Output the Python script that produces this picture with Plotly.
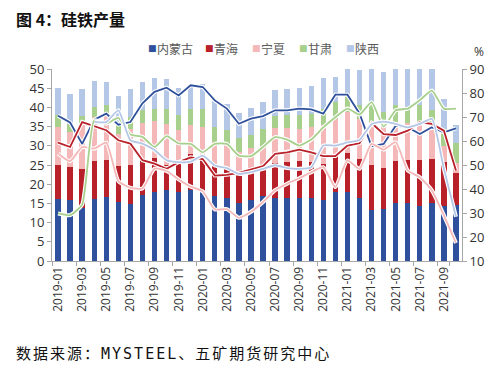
import plotly.graph_objects as go

months = ["2019-01","2019-02","2019-03","2019-04","2019-05","2019-06","2019-07","2019-08","2019-09","2019-10","2019-11","2019-12",
          "2020-01","2020-02","2020-03","2020-04","2020-05","2020-06","2020-07","2020-08","2020-09","2020-10","2020-11","2020-12",
          "2021-01","2021-02","2021-03","2021-04","2021-05","2021-06","2021-07","2021-08","2021-09","2021-10"]

# production (left axis)
neimenggu = [16.2,15.8,13.9,16.1,16.7,15.4,14.9,17.1,18.0,18.4,17.9,18.6,18.2,17.0,16.4,15.2,15.8,17.0,16.3,16.3,16.3,16.3,15.9,18.1,18.1,16.3,13.3,13.5,15.0,15.0,14.3,15.0,14.3,14.6]
qinghai   = [8.9,8.7,10.0,9.9,9.7,9.3,10.0,9.5,8.7,6.5,7.9,9.2,9.1,7.8,7.6,7.3,7.4,7.1,9.3,9.6,9.7,9.6,9.3,9.6,10.1,10.2,11.6,10.7,11.0,11.2,11.9,11.6,11.6,8.4]
ningxia   = [9.8,9.2,11.5,11.5,11.5,8.4,9.6,9.4,9.8,10.9,8.2,7.7,7.6,6.2,6.6,5.9,6.2,5.6,9.0,8.7,8.5,9.0,10.1,9.4,10.6,10.6,11.3,11.6,10.2,9.8,9.8,9.6,4.1,2.4]
gansu     = [3.0,2.1,2.3,2.6,2.6,2.7,3.1,3.2,3.2,3.9,3.9,4.2,4.6,3.9,3.4,3.6,3.5,4.8,3.2,3.3,3.4,3.5,4.4,4.3,4.3,3.6,4.8,3.0,4.5,3.7,4.5,3.0,4.5,5.4]
shaanxi   = [7.2,7.6,7.2,6.8,6.1,7.1,7.3,7.4,8.0,7.8,7.2,6.1,6.7,6.7,6.8,6.5,6.9,6.9,6.7,6.9,7.2,7.3,8.0,6.6,6.8,9.1,8.9,10.5,9.2,10.2,9.4,10.7,7.7,4.5]

# operating rate (right axis, %)
neimenggu_rate = [70.5,67.7,58.8,68.9,71.4,66.8,67.9,75.7,80.5,82.2,79.0,83.2,82.5,76.9,73.5,67.2,69.3,70.4,72.8,72.8,73.5,73.2,71.4,79.3,79.3,71.5,57.8,58.8,66.4,65.7,62.9,65.7,63.6,65.3]
qinghai_rate   = [59.3,57.5,67.9,66.3,64.5,60.3,58.9,52.0,50.6,48.4,51.2,53.2,52.5,45.6,45.9,46.7,48.1,49.5,54.6,55.3,56.4,55.3,53.7,53.7,58.1,59.1,67.5,62.9,62.5,64.3,67.8,67.1,64.3,47.7]
ningxia_rate   = [54.8,51.6,57.5,56.8,59.3,43.3,40.5,40.2,48.5,47.5,44.0,41.0,39.0,31.5,31.6,28.0,30.5,34.6,39.5,42.2,44.5,47.0,49.1,40.8,51.9,48.4,58.8,56.4,59.5,47.7,44.9,39.4,29.0,17.5]
gansu_rate     = [29.8,29.1,33.5,68.6,67.2,69.6,62.7,61.7,57.5,62.0,59.0,58.8,55.3,58.8,58.8,53.9,53.7,57.5,61.6,60.6,58.1,60.6,65.7,69.9,73.5,71.0,76.2,66.0,72.8,73.5,77.0,81.0,73.5,73.5]
shaanxi_rate   = [None,None,None,68.0,67.9,72.8,60.3,58.9,56.2,52.0,51.2,51.4,53.9,49.8,48.7,46.3,47.0,48.4,49.9,48.7,48.4,49.1,58.1,58.1,59.4,60.4,67.0,68.1,67.1,65.7,67.1,69.2,48.4,28.4]

names = ["内蒙古", "青海", "宁夏", "甘肃", "陕西"]
colors = ["#2F519D", "#B8202A", "#F4B8B8", "#A8D08D", "#B4C7E7"]
bars = [neimenggu, qinghai, ningxia, gansu, shaanxi]
rates = [neimenggu_rate, qinghai_rate, ningxia_rate, gansu_rate, shaanxi_rate]
shapes_ = ["linear", "linear", "spline", "spline", "spline"]

fig = go.Figure()
for n, c, v in zip(names, colors, bars):
    fig.add_trace(go.Bar(x=months, y=v, name=n, marker=dict(color=c, line=dict(width=0)), yaxis="y"))

for n, c, v, s in zip(names, colors, rates, shapes_):
    fig.add_trace(go.Scatter(x=months, y=v, mode="lines", yaxis="y2", showlegend=False,
                             line=dict(color="white", width=4, shape=s, smoothing=0.5), hoverinfo="skip"))
    fig.add_trace(go.Scatter(x=months, y=v, mode="lines", yaxis="y2", showlegend=False, name=n,
                             line=dict(color=c, width=1.8, shape=s, smoothing=0.5)))

font_cjk = "Noto Sans CJK SC, Open Sans, sans-serif"
OFF = 8  # page body margin offset
# plot area in screen pixels
SX0, SX1, SY0, SY1 = 52, 462, 69, 261
L, W, T, H = SX0 - OFF, SX1 - SX0, SY0 - OFF, SY1 - SY0
FW, FH = 500, 372

def px_x(x):
    return (x - SX0) / W

def px_y(y):
    return 1 - (y - SY0) / H

annotations = [
    dict(text="<b>图 4：硅铁产量</b>", xref="paper", yref="paper", x=px_x(14), y=px_y(19),
         xanchor="left", yanchor="middle", showarrow=False,
         font=dict(size=16, color="#111111", family=font_cjk)),
    dict(text="%", xref="paper", yref="paper", x=px_x(479), y=px_y(52), xanchor="center", yanchor="middle",
         showarrow=False, font=dict(size=12, color="#333333", family="Open Sans, sans-serif")),
    dict(text="<span style='letter-spacing:2px'>数据来源：<span style='font-family:DejaVu Sans Mono'>MYSTEEL</span>、五矿期货研究中心</span>",
         xref="paper", yref="paper", x=px_x(14), y=px_y(352), xanchor="left", yanchor="middle",
         showarrow=False, font=dict(size=15, color="#111111", family=font_cjk)),
]

# legend drawn as text items
legend_x = [146, 203, 250, 297, 344]
for n, c, lx in zip(names, colors, legend_x):
    annotations.append(dict(text="■", xref="paper", yref="paper", x=px_x(lx), y=px_y(48),
                            xanchor="left", yanchor="middle", showarrow=False,
                            font=dict(size=9, color=c, family="DejaVu Sans")))
    annotations.append(dict(text=n, xref="paper", yref="paper", x=px_x(lx + 9), y=px_y(48),
                            xanchor="left", yanchor="middle", showarrow=False,
                            font=dict(size=12, color="#595959", family=font_cjk)))

fig.update_layout(
    width=FW, height=FH,
    margin=dict(l=L, r=FW - L - W, t=T, b=FH - T - H),
    paper_bgcolor="white", plot_bgcolor="white",
    barmode="stack", bargap=0.56,
    font=dict(family=font_cjk, size=12, color="#333333"),
    showlegend=False,
    xaxis=dict(type="category", tickmode="array", tickvals=months[::2], ticktext=months[::2],
               tickangle=-90, tickfont=dict(size=12, color="#333333", family="Open Sans, sans-serif"),
               showline=True, linecolor="#A6A6A6", linewidth=1, ticks="outside", tickson="boundaries",
               ticklen=4, tickcolor="#A6A6A6", showgrid=False, range=[-0.5, 33.5]),
    yaxis=dict(range=[0, 50], dtick=5, showline=True, linecolor="#A6A6A6", ticks="outside",
               ticklen=4, tickcolor="#A6A6A6", showgrid=False, zeroline=False,
               tickfont=dict(size=13, color="#333333", family="Open Sans, sans-serif")),
    yaxis2=dict(range=[10, 90], dtick=10, overlaying="y", side="right", showline=True,
                linecolor="#A6A6A6", ticks="outside", ticklen=4, tickcolor="#A6A6A6",
                showgrid=False, zeroline=False,
                tickfont=dict(size=13, color="#333333", family="Open Sans, sans-serif")),
    annotations=annotations,
)

fig.write_html("out.html")
